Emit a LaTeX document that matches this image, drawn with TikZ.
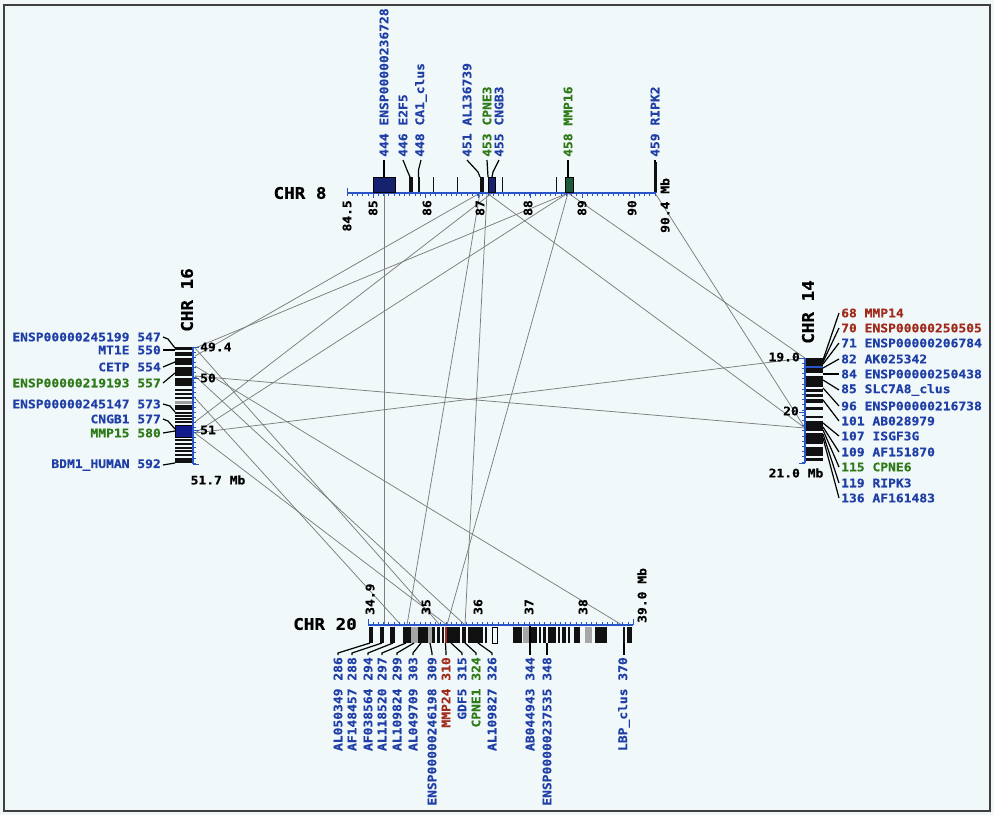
\documentclass[tikz,border=0pt]{standalone}
\usepackage{fontspec}
\newfontfamily\lblfont[FakeStretch=1.1, BoldFeatures={FakeBold=0.6}]{DejaVu Sans Mono}
\definecolor{bgc}{HTML}{F1F8F9}
\definecolor{gblue}{HTML}{1F3FA6}
\definecolor{ggreen}{HTML}{2E7A18}
\definecolor{gred}{HTML}{A02A1C}
\definecolor{axblue}{HTML}{2A55C8}
\definecolor{connc}{HTML}{7D7D7D}
\definecolor{navyc}{HTML}{16226E}
\definecolor{dgreenc}{HTML}{1C5A3A}
\definecolor{bandc}{HTML}{111111}
\tikzset{
  lbl/.style={font=\lblfont\bfseries\fontsize{11.8}{12}\selectfont, inner sep=0pt, text=gblue},
  glbl/.style={lbl, text=ggreen},
  rlbl/.style={lbl, text=gred},
  tlbl/.style={lbl, text=black},
  chrlbl/.style={font=\lblfont\bfseries\fontsize{16}{16}\selectfont, inner sep=0pt, text=black},
  conn/.style={draw=connc, line width=0.75pt},
  lead/.style={draw=black, line width=1.2pt},
  axisln/.style={draw=axblue, line width=1.4pt},
  tickln/.style={draw=axblue, line width=0.7pt},
  band/.style={fill=bandc},
  framec/.style={draw=black!75, line width=1.3pt}
}
\begin{document}
\begin{tikzpicture}[x=1pt,y=-1pt]
\fill[bgc] (0,0) rectangle (994,815);
\useasboundingbox (0,0) rectangle (994,815);
\draw[framec] (4,5) rectangle (990,811);

% ---------- connector end points ----------
\coordinate (c8a) at (384,193);
\coordinate (c8b) at (480,193);
\coordinate (c8c) at (487,193);
\coordinate (c8d) at (492,193);
\coordinate (c8e) at (568,193);
\coordinate (c8f) at (655,193);
\coordinate (c16a) at (195,348);
\coordinate (c16b) at (195,356);
\coordinate (c16d) at (195,366);
\coordinate (c16e) at (195,376);
\coordinate (c16f) at (195,398);
\coordinate (c16g) at (195,422);
\coordinate (c16h) at (195,433);
\coordinate (c14a) at (805,358);
\coordinate (c14b) at (805,428);
\coordinate (c20a) at (384,625);
\coordinate (c20b) at (407,625);
\coordinate (c20c) at (465,625);
\coordinate (c20d) at (447,625);
\coordinate (c20e) at (622,625);
\coordinate (c20f) at (440,625);
\coordinate (c20h) at (401,625);

% ---------- connectors ----------
\draw[conn] (c8a) -- (c20a);
\draw[conn] (c8b) -- (c16b);
\draw[conn] (c8b) -- (c20b);
\draw[conn] (c8c) -- (c20c);
\draw[conn] (c8c) -- (c14b);
\draw[conn] (c8d) -- (c16g);
\draw[conn] (c8e) -- (c16h);
\draw[conn] (c8e) -- (c20d);
\draw[conn] (c8e) -- (c14a);
\draw[conn] (c8f) -- (c14b);
\draw[conn] (c8e) -- (c16a);
\draw[conn] (c16h) -- (c14a);
\draw[conn] (c16e) -- (c14b);
\draw[conn] (c16d) -- (c20e);
\draw[conn] (c16e) -- (c20c);
\draw[conn] (c16h) -- (c20d);
\draw[conn] (c16a) -- (c20f);
\draw[conn] (c16f) -- (c20h);

% ================= CHR 8 =================
\node[chrlbl] (chr8) at (300,193) {CHR 8};
\foreach \i in {0,...,59} \draw[tickln] ({347+\i*5.22},193) -- ++(0,3);
\foreach \x in {373,425,478,530,582,634} \draw[tickln] (\x,193) -- ++(0,5);
\draw[axisln] (347,193) -- (656,193);
\draw[tickln] (347,193) -- ++(0,-5);
\draw[tickln] (656,193) -- ++(0,-5);
% features
\fill[navyc] (373,177) rectangle (395,193);
\draw[black, line width=0.9pt] (373,177) rectangle (395,192);
\foreach \a/\b in {409/413, 417.5/419.5, 432.5/434, 456.5/458, 479.5/483.5, 501.5/503, 555.5/557}
  \fill[band] (\a,177) rectangle (\b,192.3);
\fill[navyc] (488,177) rectangle (495,193);
\draw[black, line width=0.9pt] (488,177) rectangle (495,192);
\fill[dgreenc] (565,177) rectangle (573,193);
\draw[black, line width=0.9pt] (565,177) rectangle (573,192);
\fill[band] (654,162) rectangle (656.5,192.3);
% gene labels
\node[lbl, rotate=90, anchor=west] (g444) at (384,157) {444 ENSP00000236728};
\node[lbl, rotate=90, anchor=west] (g446) at (403,157) {446 E2F5};
\node[lbl, rotate=90, anchor=west] (g448) at (421,157) {448 CA1\_clus};
\node[lbl, rotate=90, anchor=west] (g451) at (467,157) {451 AL136739};
\node[glbl, rotate=90, anchor=west] (g453) at (487,157) {453 CPNE3};
\node[lbl, rotate=90, anchor=west] (g455) at (499,157) {455 CNGB3};
\node[glbl, rotate=90, anchor=west] (g458) at (568,157) {458 MMP16};
\node[lbl, rotate=90, anchor=west] (g459) at (655,157) {459 RIPK2};
\draw[lead] (384,160) -- (384,177);
\draw[lead] (403,160) -- (407,170) -- (410,177);
\draw[lead] (421,160) -- (418.5,170) -- (418.5,177);
\draw[lead] (467,160) -- (478,172) -- (480,177);
\draw[lead] (487,160) -- (488,177);
\draw[lead] (499,160) -- (493,172) -- (492,177);
\draw[lead] (568,160) -- (568,177);
\draw[lead] (655,160) -- (655,163);
% tick labels
\node[tlbl, rotate=90, anchor=east] (t845) at (347,200) {84.5};
\node[tlbl, rotate=90, anchor=east] (t85) at (373,200) {85};
\node[tlbl, rotate=90, anchor=east] (t86) at (427,200) {86};
\node[tlbl, rotate=90, anchor=east] (t87) at (480,200) {87};
\node[tlbl, rotate=90, anchor=east] (t88) at (528,200) {88};
\node[tlbl, rotate=90, anchor=east] (t89) at (582,200) {89};
\node[tlbl, rotate=90, anchor=east] (t90) at (632,200) {90};
\node[tlbl, rotate=90, anchor=west] (t904) at (665,233) {90.4 Mb};

% ================= CHR 16 =================
\node[chrlbl, rotate=90] (chr16) at (187,300) {CHR 16};
\foreach \a/\b in {347/350, 352/356, 358/365, 366.5/376, 378/386, 388.5/390.5, 392.5/394.5, 396.5/398.5, 405/410, 412/413.5, 415/416.5, 418/419.5, 421/423, 439/441, 443/445, 447/448.5, 450/452, 454/456, 458/463}
  \fill[band] (175,\a) rectangle (193,\b);
\fill[gray!75] (175,400.5) rectangle (193,404);
\fill[navyc!80!blue] (175,425) rectangle (193,437);
\draw[black, line width=0.9pt] (175,425) rectangle (193,437);
\draw[axisln] (193,347) -- (193,464);
\foreach \i in {0,...,23} \draw[tickln] (193,{347+\i*5.04}) -- ++(3,0);
\draw[tickln] (193,347) -- (199,347);
\draw[tickln] (193,378) -- (199,378);
\draw[tickln] (193,430) -- (199,430);
\draw[tickln] (193,464) -- (199,464);
\node[tlbl, anchor=west] (t494) at (200,347) {49.4};
\node[tlbl, anchor=west] (t50) at (200,378) {50};
\node[tlbl, anchor=west] (t51) at (200,430) {51};
\node[tlbl] (t517) at (218,480) {51.7 Mb};
\node[lbl, anchor=east] (g547) at (161,337) {ENSP00000245199 547};
\node[lbl, anchor=east] (g550) at (161,350) {MT1E 550};
\node[lbl, anchor=east] (g554) at (161,367) {CETP 554};
\node[glbl, anchor=east] (g557) at (161,383) {ENSP00000219193 557};
\node[lbl, anchor=east] (g573) at (161,404) {ENSP00000245147 573};
\node[lbl, anchor=east] (g577) at (161,419) {CNGB1 577};
\node[glbl, anchor=east] (g580) at (161,433) {MMP15 580};
\node[lbl, anchor=east] (g592) at (161,465) {BDM1\_HUMAN 592};
\draw[lead] (163,337) -- (168,339) -- (175,348);
\draw[lead] (163,350) -- (175,350);
\draw[lead] (163,367) -- (175,362);
\draw[lead] (163,383) -- (175,373);
\draw[lead] (163,404) -- (170,406) -- (175,412);
\draw[lead] (163,419) -- (168,421) -- (175,429);
\draw[lead] (163,433) -- (175,431);
\draw[lead] (163,465) -- (175,463);

% ================= CHR 14 =================
\node[chrlbl, rotate=90] (chr14) at (808,312) {CHR 14};
\foreach \a/\b in {358/366, 368/373, 376/387, 389/392, 394/397, 399/403, 407/410, 416/418, 421/431, 432.5/444, 447/456, 458/461}
  \fill[band] (805,\a) rectangle (823,\b);
\fill[axblue] (805,366) rectangle (823,368);
\draw[axisln] (805,358) -- (805,463);
\foreach \i in {0,...,20} \draw[tickln] (805,{358+\i*5.2}) -- ++(-3,0);
\draw[tickln] (805,358) -- (799,358);
\draw[tickln] (805,412) -- (799,412);
\draw[tickln] (805,463) -- (799,463);
\node[tlbl, anchor=east] (t190) at (800,357) {19.0};
\node[tlbl, anchor=east] (t20) at (799,411) {20};
\node[tlbl] (t210) at (796,473) {21.0 Mb};
\node[rlbl, anchor=west] (h68) at (841,313) {68 MMP14};
\node[rlbl, anchor=west] (h70) at (841,328) {70 ENSP00000250505};
\node[lbl, anchor=west] (h71) at (841,343) {71 ENSP00000206784};
\node[lbl, anchor=west] (h82) at (841,359) {82 AK025342};
\node[lbl, anchor=west] (h84) at (841,374) {84 ENSP00000250438};
\node[lbl, anchor=west] (h85) at (841,390) {85 SLC7A8\_clus};
\node[lbl, anchor=west] (h96) at (841,406) {96 ENSP00000216738};
\node[lbl, anchor=west] (h101) at (841,421) {101 AB028979};
\node[lbl, anchor=west] (h107) at (841,436) {107 ISGF3G};
\node[lbl, anchor=west] (h109) at (841,452) {109 AF151870};
\node[glbl, anchor=west] (h115) at (841,467) {115 CPNE6};
\node[lbl, anchor=west] (h119) at (841,483) {119 RIPK3};
\node[lbl, anchor=west] (h136) at (841,498) {136 AF161483};
\foreach \ya/\yb in {313/360, 328/362, 343/364, 359/368, 374/374, 390/380, 406/388, 421/400, 436/423, 452/427, 467/430, 483/434, 498/438}
  \draw[lead] (839,\ya) -- (823,\yb);

% ================= CHR 20 =================
\node[chrlbl] (chr20) at (325,624) {CHR 20};
\foreach \a/\b in {369/373, 380/384, 390/395, 403/411, 418/428, 432/435, 436.5/440, 441.5/444, 447/460, 462/466, 468/483, 485/486.5, 513/522, 529/537, 539/541, 543/546, 548/556, 558/560, 562/566, 568/570, 574/580, 595/607, 622.5/625, 627/632}
  \fill[band] (\a,627) rectangle (\b,643);
\foreach \a/\b in {411/418, 428/432, 523/529, 585/592}
  \fill[gray!70] (\a,627) rectangle (\b,643);
\fill[gred] (444.5,627) rectangle (446.5,643);
\draw[black, line width=0.9pt] (492,627.5) rectangle (497,643);
\draw[axisln] (368,625) -- (633,625);
\foreach \i in {0,...,50} \draw[tickln] ({368+\i*5.2},625) -- ++(0,-3);
\draw[tickln] (368,625) -- ++(0,-6);
\draw[tickln] (633,625) -- ++(0,-6);
\node[tlbl, rotate=90, anchor=west] (t349) at (370,615) {34.9};
\node[tlbl, rotate=90, anchor=west] (t35) at (426,615) {35};
\node[tlbl, rotate=90, anchor=west] (t36) at (478,615) {36};
\node[tlbl, rotate=90, anchor=west] (t37) at (529,615) {37};
\node[tlbl, rotate=90, anchor=west] (t38) at (583,615) {38};
\node[tlbl, rotate=90, anchor=west] (t390) at (642,623) {39.0 Mb};
\node[lbl, rotate=90, anchor=east] (k286) at (338,657) {AL050349 286};
\node[lbl, rotate=90, anchor=east] (k288) at (352,657) {AF148457 288};
\node[lbl, rotate=90, anchor=east] (k294) at (368,657) {AF038564 294};
\node[lbl, rotate=90, anchor=east] (k297) at (382,657) {AL118520 297};
\node[lbl, rotate=90, anchor=east] (k299) at (397,657) {AL109824 299};
\node[lbl, rotate=90, anchor=east] (k303) at (413,657) {AL049709 303};
\node[lbl, rotate=90, anchor=east] (k309) at (432,657) {ENSP00000246198 309};
\node[rlbl, rotate=90, anchor=east] (k310) at (446,657) {MMP24 310};
\node[lbl, rotate=90, anchor=east] (k315) at (462,657) {GDF5 315};
\node[glbl, rotate=90, anchor=east] (k324) at (476,657) {CPNE1 324};
\node[lbl, rotate=90, anchor=east] (k326) at (492,657) {AL109827 326};
\node[lbl, rotate=90, anchor=east] (k344) at (530,657) {AB044943 344};
\node[lbl, rotate=90, anchor=east] (k348) at (547,657) {ENSP00000237535 348};
\node[lbl, rotate=90, anchor=east] (k370) at (624,657) {LBP\_clus 370};
\foreach \xa/\xb in {338/370, 352/382, 368/393, 382/406, 397/414, 413/421, 432/430, 446/445.5, 462/451, 476/465, 492/478, 547/547, 624/624}
  \draw[lead] (\xa,655) -- (\xa,653) -- (\xb,643);
\draw[lead] (530,626) -- (530,655);
\end{tikzpicture}
\end{document}
